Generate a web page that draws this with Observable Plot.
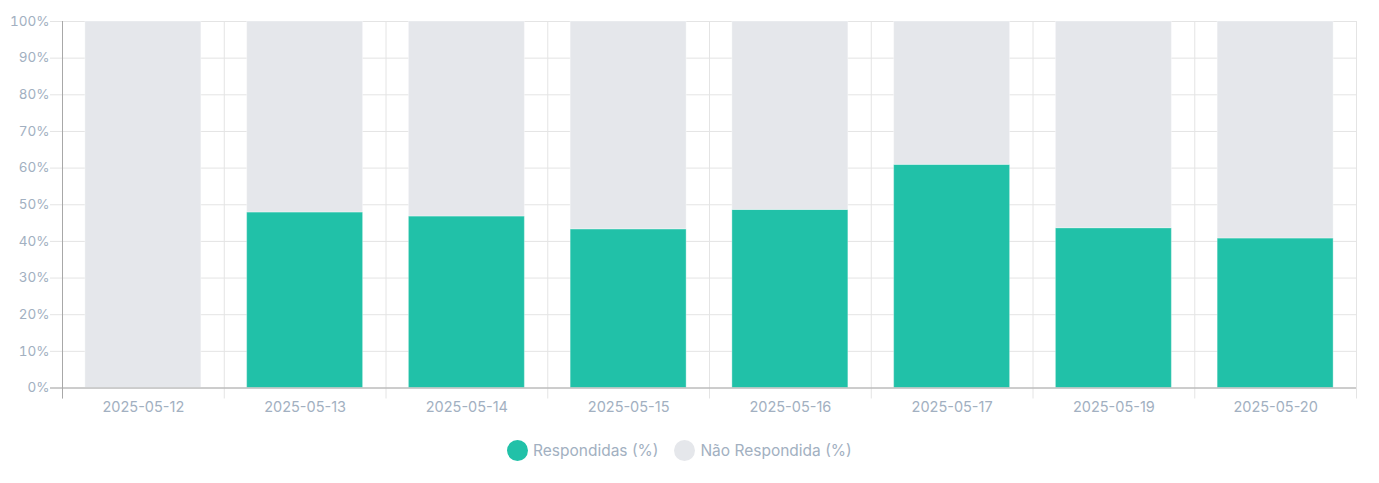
<!DOCTYPE html>
<html>
<head>
<meta charset="utf-8">
<script src="https://cdn.jsdelivr.net/npm/d3@7"></script>
<script src="https://cdn.jsdelivr.net/npm/@observablehq/plot@0.6"></script>
<style>
  body { margin: 0; background: #fff; font-family: Inter, "Noto Sans", sans-serif; }
  #wrap { position: relative; width: 1379px; height: 483px; }
  #legend { position: absolute; top: 440px; left: 507px; display: flex; align-items: center; font-size: 15.5px; color: #a2b0c1; }
  .item { display: flex; align-items: center; margin-right: 16px; }
  .dot { width: 21px; height: 21px; border-radius: 50%; margin-right: 5px; }
</style>
</head>
<body>
<div id="wrap">
  <div id="chart"></div>
  <div id="legend"></div>
</div>
<script>
const dates = ["2025-05-12", "2025-05-13", "2025-05-14", "2025-05-15", "2025-05-16", "2025-05-17", "2025-05-19", "2025-05-20"];
const respondidas = [0, 47.9, 46.8, 43.3, 48.6, 60.9, 43.6, 40.8];
const naoRespondidas = [100, 52.1, 53.2, 56.7, 51.4, 39.1, 56.4, 59.2];
const seriesNames = ["Respondidas (%)", "Não Respondida (%)"];
const seriesColors = ["#21c1a8", "#e5e7eb"];
const yTicks = [0, 10, 20, 30, 40, 50, 60, 70, 80, 90, 100];

const table = [];
dates.forEach((d, i) => {
  table.push({date: d, series: seriesNames[0], value: respondidas[i]});
  table.push({date: d, series: seriesNames[1], value: naoRespondidas[i]});
});

const W = 1379, H = 420;
const mL = 62, mR = 23, mT = 21, mB = H - 387.5;
const pad = 0.283;
const xs = Plot.scale({x: {type: "band", domain: dates, range: [mL, W - mR], paddingInner: pad, paddingOuter: pad / 2, round: false}});
const step = xs.step;

const grid = "#e4e4e4";
const axisCol = "#a8a8a8";
const textCol = "#a2b0c1";

const chart = Plot.plot({
  width: W,
  height: H,
  marginLeft: mL,
  marginRight: mR,
  marginTop: mT,
  marginBottom: mB,
  style: {fontFamily: "Inter, 'Noto Sans', sans-serif", fontSize: "13px", background: "#fff"},
  x: {type: "band", domain: dates, paddingInner: pad, paddingOuter: pad / 2, round: false, label: null},
  y: {domain: [0, 100], label: null},
  color: {domain: seriesNames, range: seriesColors},
  marks: [
    Plot.ruleY(yTicks, {y: d => d, stroke: grid, strokeOpacity: 1, insetLeft: -12}),
    Plot.ruleX(dates, {x: d => d, dx: -step / 2, y1: 100, y2: 0, stroke: grid, insetBottom: -11}),
    Plot.ruleX(dates.slice(-1), {x: d => d, dx: step / 2, y1: 100, y2: 0, stroke: grid, insetBottom: -11}),
    Plot.barY(table, {x: "date", y: "value", fill: "series", stroke: "#ffffff", strokeOpacity: 0.35, strokeWidth: 1}),
    Plot.ruleY([0], {stroke: axisCol, insetLeft: -12}),
    Plot.ruleX(dates.slice(0, 1), {x: d => d, dx: -step / 2, y1: 100, y2: 0, stroke: axisCol, insetBottom: -11}),
    Plot.axisY({ticks: yTicks, tickFormat: d => d + "%", tickSize: 0, tickPadding: 13, fill: textCol, fontSize: 13.5, label: null}),
    Plot.axisX({tickSize: 0, tickPadding: 14, fill: textCol, fontSize: 14.5, label: null})
  ]
});
document.getElementById("chart").appendChild(chart);

const legend = document.getElementById("legend");
seriesNames.forEach((n, i) => {
  const item = document.createElement("div");
  item.className = "item";
  const dot = document.createElement("div");
  dot.className = "dot";
  dot.style.background = seriesColors[i];
  const label = document.createElement("span");
  label.textContent = n;
  item.appendChild(dot);
  item.appendChild(label);
  legend.appendChild(item);
});
</script>
</body>
</html>
